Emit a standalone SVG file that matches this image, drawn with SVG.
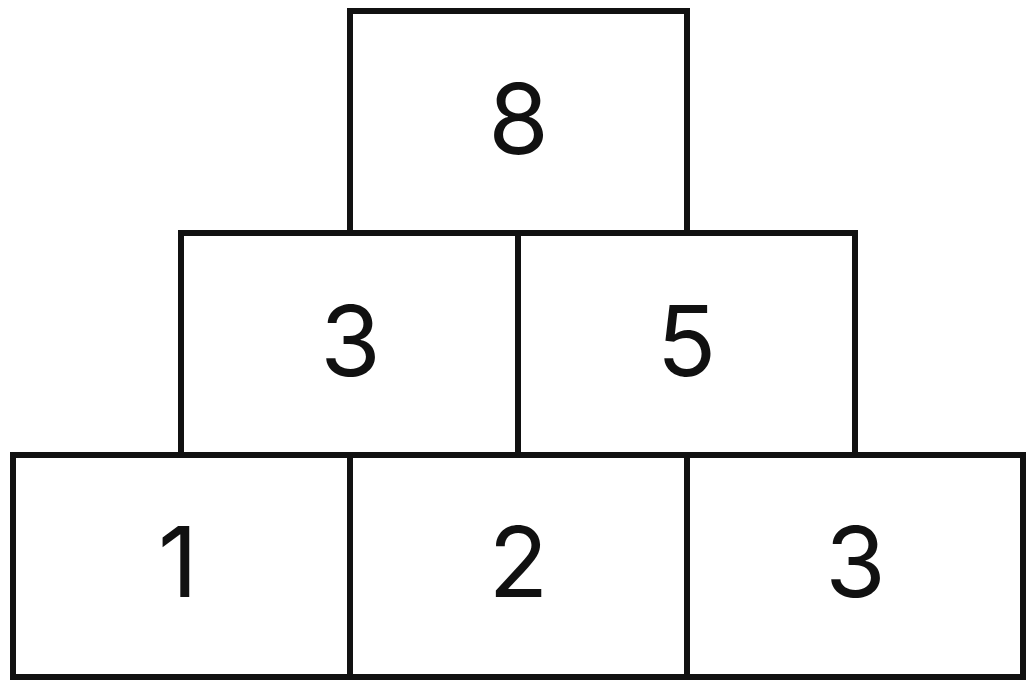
<svg xmlns="http://www.w3.org/2000/svg" width="1035" height="689" viewBox="0 0 1035 689">
<style>
.box{fill:#fff;stroke:#111;stroke-width:6}
.lbl{font-family:Inter,"Liberation Sans",Arial,sans-serif;font-size:98px;font-weight:400;fill:#111;text-anchor:middle}
</style>
<rect width="1035" height="689" fill="#fff"/>
<g id="top"><rect class="box" x="350" y="11" width="337" height="222"/><text class="lbl" x="518.5" y="154">8</text></g>
<g id="mid-left"><rect class="box" x="181" y="233" width="337" height="222"/><text class="lbl" x="350.5" y="376">3</text></g>
<g id="mid-right"><rect class="box" x="518" y="233" width="337" height="222"/><text class="lbl" x="686.5" y="376">5</text></g>
<g id="bot-left"><rect class="box" x="13" y="455" width="337" height="222"/><text class="lbl" x="178" y="597">1</text></g>
<g id="bot-mid"><rect class="box" x="350" y="455" width="337" height="222"/><text class="lbl" x="518.5" y="597">2</text></g>
<g id="bot-right"><rect class="box" x="687" y="455" width="336" height="222"/><text class="lbl" x="855.5" y="597">3</text></g>
<g id="connectors"/>
</svg>
